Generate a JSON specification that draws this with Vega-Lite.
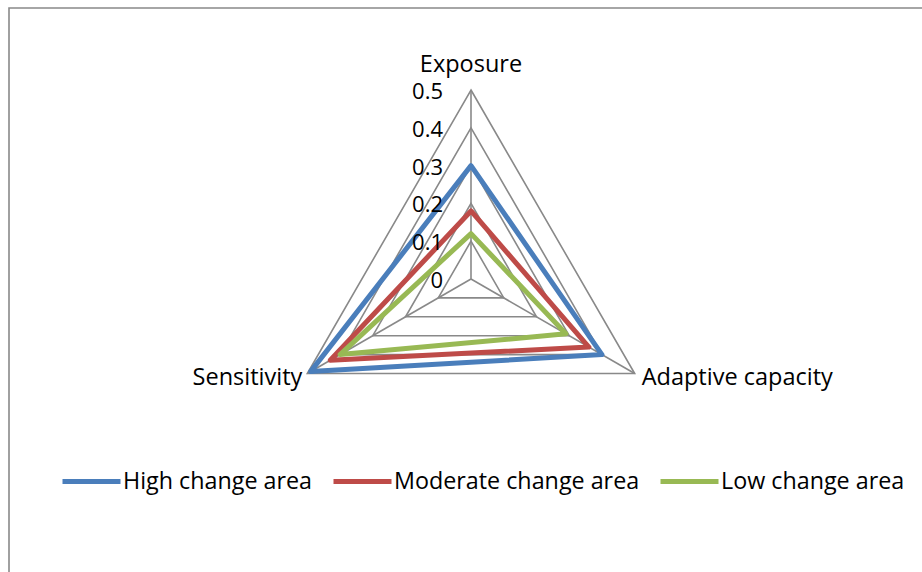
{
  "$schema": "https://vega.github.io/schema/vega-lite/v6.json",
  "width": 930,
  "height": 580,
  "autosize": {"type": "none"},
  "padding": {"left": 9, "top": 8, "right": -17, "bottom": -16},
  "background": "white",
  "config": {
    "view": {"stroke": "#898989", "strokeWidth": 1.6},
    "font": "Open Sans",
    "text": {"font": "Open Sans", "fontSize": 23.5, "color": "#000000"}
  },
  "datasets": {
    "series": [
      {"series": "High change area", "axis": "Exposure", "value": 0.30},
      {"series": "High change area", "axis": "Adaptive capacity", "value": 0.40},
      {"series": "High change area", "axis": "Sensitivity", "value": 0.49},
      {"series": "Moderate change area", "axis": "Exposure", "value": 0.18},
      {"series": "Moderate change area", "axis": "Adaptive capacity", "value": 0.36},
      {"series": "Moderate change area", "axis": "Sensitivity", "value": 0.43},
      {"series": "Low change area", "axis": "Exposure", "value": 0.12},
      {"series": "Low change area", "axis": "Adaptive capacity", "value": 0.29},
      {"series": "Low change area", "axis": "Sensitivity", "value": 0.40}
    ],
    "levels": [
      {"level": 0, "label": "0"},
      {"level": 0.1, "label": "0.1"},
      {"level": 0.2, "label": "0.2"},
      {"level": 0.3, "label": "0.3"},
      {"level": 0.4, "label": "0.4"},
      {"level": 0.5, "label": "0.5"}
    ],
    "axes": [
      {"axis": "Exposure"},
      {"axis": "Adaptive capacity"},
      {"axis": "Sensitivity"}
    ]
  },
  "layer": [
    {
      "data": {"name": "levels"},
      "transform": [
        {"filter": "datum.level > 0"},
        {"calculate": "['Exposure','Adaptive capacity','Sensitivity']", "as": "axis"},
        {"flatten": ["axis"]},
        {"calculate": "indexof(['Exposure','Adaptive capacity','Sensitivity'], datum.axis)", "as": "k"},
        {"calculate": "datum.level * cos(PI/2 - 2*PI*datum.k/3)", "as": "px"},
        {"calculate": "datum.level * sin(PI/2 - 2*PI*datum.k/3)", "as": "py"}
      ],
      "mark": {"type": "line", "interpolate": "linear-closed", "stroke": "#898989", "strokeWidth": 1.6},
      "encoding": {
        "x": {"field": "px", "type": "quantitative", "scale": {"domain": [-1.222222, 1.238095], "nice": false, "zero": false}, "axis": null},
        "y": {"field": "py", "type": "quantitative", "scale": {"domain": [-0.81746, 0.716931], "nice": false, "zero": false}, "axis": null},
        "detail": {"field": "level", "type": "nominal"},
        "order": {"field": "k", "type": "quantitative"}
      }
    },
    {
      "data": {"name": "axes"},
      "transform": [
        {"calculate": "indexof(['Exposure','Adaptive capacity','Sensitivity'], datum.axis)", "as": "k"},
        {"calculate": "0.5 * cos(PI/2 - 2*PI*datum.k/3)", "as": "px"},
        {"calculate": "0.5 * sin(PI/2 - 2*PI*datum.k/3)", "as": "py"}
      ],
      "mark": {"type": "rule", "stroke": "#898989", "strokeWidth": 1.6},
      "encoding": {
        "x": {"field": "px", "type": "quantitative"},
        "y": {"field": "py", "type": "quantitative"},
        "x2": {"datum": 0},
        "y2": {"datum": 0}
      }
    },
    {
      "data": {"name": "series"},
      "transform": [
        {"calculate": "indexof(['Exposure','Adaptive capacity','Sensitivity'], datum.axis)", "as": "k"},
        {"calculate": "datum.value * cos(PI/2 - 2*PI*datum.k/3)", "as": "px"},
        {"calculate": "datum.value * sin(PI/2 - 2*PI*datum.k/3)", "as": "py"}
      ],
      "mark": {"type": "line", "interpolate": "linear-closed", "strokeWidth": 5, "strokeJoin": "round", "strokeCap": "round"},
      "encoding": {
        "x": {"field": "px", "type": "quantitative"},
        "y": {"field": "py", "type": "quantitative"},
        "order": {"field": "k", "type": "quantitative"},
        "color": {
          "field": "series",
          "type": "nominal",
          "scale": {"domain": ["High change area", "Moderate change area", "Low change area"], "range": ["#4A7EBB", "#BE4B48", "#98B954"]},
          "legend": {
            "title": null,
            "orient": "none",
            "direction": "horizontal",
            "legendX": 51,
            "legendY": 442,
            "symbolType": "stroke",
            "symbolSize": 3364,
            "symbolStrokeWidth": 5,
            "labelFont": "Open Sans",
            "labelFontSize": 23.3,
            "labelColor": "#000000",
            "labelOffset": 0,
            "columnPadding": 10,
            "labelLimit": 400
          }
        }
      }
    },
    {
      "data": {"name": "levels"},
      "mark": {"type": "text", "align": "right", "baseline": "middle", "dx": -28, "dy": 2, "fontSize": 22},
      "encoding": {
        "x": {"datum": 0},
        "y": {"field": "level", "type": "quantitative"},
        "text": {"field": "label"}
      }
    },
    {
      "data": {"name": "axes"},
      "transform": [
        {"filter": "datum.axis === 'Exposure'"},
        {"calculate": "indexof(['Exposure','Adaptive capacity','Sensitivity'], datum.axis)", "as": "k"},
        {"calculate": "0.5 * cos(PI/2 - 2*PI*datum.k/3)", "as": "px"},
        {"calculate": "0.5 * sin(PI/2 - 2*PI*datum.k/3)", "as": "py"}
      ],
      "mark": {"type": "text", "align": "center", "baseline": "middle", "dy": -25},
      "encoding": {
        "x": {"field": "px", "type": "quantitative"},
        "y": {"field": "py", "type": "quantitative"},
        "text": {"field": "axis"}
      }
    },
    {
      "data": {"name": "axes"},
      "transform": [
        {"filter": "datum.axis === 'Sensitivity'"},
        {"calculate": "indexof(['Exposure','Adaptive capacity','Sensitivity'], datum.axis)", "as": "k"},
        {"calculate": "0.5 * cos(PI/2 - 2*PI*datum.k/3)", "as": "px"},
        {"calculate": "0.5 * sin(PI/2 - 2*PI*datum.k/3)", "as": "py"}
      ],
      "mark": {"type": "text", "align": "right", "baseline": "middle", "dx": -5, "dy": 4},
      "encoding": {
        "x": {"field": "px", "type": "quantitative"},
        "y": {"field": "py", "type": "quantitative"},
        "text": {"field": "axis"}
      }
    },
    {
      "data": {"name": "axes"},
      "transform": [
        {"filter": "datum.axis === 'Adaptive capacity'"},
        {"calculate": "indexof(['Exposure','Adaptive capacity','Sensitivity'], datum.axis)", "as": "k"},
        {"calculate": "0.5 * cos(PI/2 - 2*PI*datum.k/3)", "as": "px"},
        {"calculate": "0.5 * sin(PI/2 - 2*PI*datum.k/3)", "as": "py"}
      ],
      "mark": {"type": "text", "align": "left", "baseline": "middle", "dx": 7, "dy": 4},
      "encoding": {
        "x": {"field": "px", "type": "quantitative"},
        "y": {"field": "py", "type": "quantitative"},
        "text": {"field": "axis"}
      }
    }
  ]
}
